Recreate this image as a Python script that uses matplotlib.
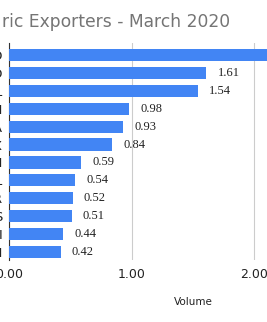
import matplotlib.pyplot as plt
import numpy as np

# data (first bar runs off the right edge, estimated)
labels = ["O", "O", "L", "M", "A", "X", "M", "L", "R", "S", "I", "M"]
volumes = [2.25, 1.61, 1.54, 0.98, 0.93, 0.84, 0.59, 0.54, 0.52, 0.51, 0.44, 0.42]
xticks = [0.0, 1.0, 2.0, 3.0]

W, H = 267, 322
fig = plt.figure(figsize=(W / 100, H / 100), dpi=100)
# axes is wider than the figure, the right part is cut off like in the reference
ax = fig.add_axes([9 / W, 1 - 260 / H, 368 / W, 217 / H])

y = np.arange(len(labels))
ax.barh(y, volumes, height=0.68, color="#4285f4", zorder=3)

for yi, v in zip(y, volumes):
    ax.text(v + 0.09, yi, f"{v:.2f}", va="center", ha="left",
            family="Liberation Serif", fontsize=9, color="#222222")

ax.set_ylim(len(labels) - 1 + 0.45, -0.67)
ax.set_xlim(0, 3.0)
ax.set_yticks(y)
ax.set_yticklabels(labels, fontsize=9.5, color="#222222")
ax.set_xticks(xticks)
ax.set_xticklabels([f"{t:.2f}" for t in xticks], fontsize=9, color="#222222")
ax.tick_params(length=0, pad=5)
ax.tick_params(axis="x", pad=6)
ax.grid(axis="x", color="#cccccc", linewidth=0.8, zorder=0)
for s in ["top", "right", "bottom"]:
    ax.spines[s].set_visible(False)
ax.spines["left"].set_color("#333333")
ax.spines["left"].set_linewidth(0.8)

ax.set_xlabel("Volume", fontsize=7.5, color="#222222", labelpad=11)

fig.text(2 / W, 1 - 22 / H, "ric Exporters - March 2020", fontsize=12.3,
         color="#757575", va="center", ha="left")

fig.savefig("out.png", dpi=100)
